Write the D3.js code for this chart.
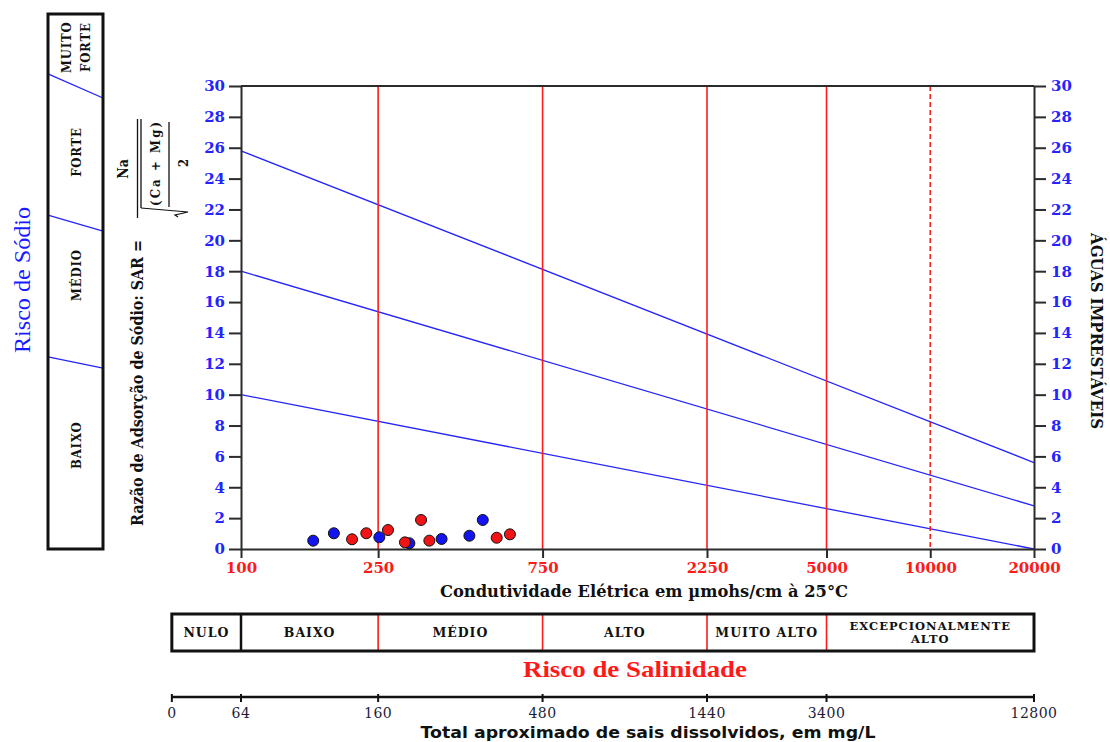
<!DOCTYPE html>
<html>
<head>
<meta charset="utf-8">
<script src="https://cdn.jsdelivr.net/npm/d3@7"></script>
<style>
  html, body { margin: 0; padding: 0; background: #fff; }
  svg { display: block; }
</style>
</head>
<body>
<svg id="chart" width="1110" height="742"></svg>
<script>
// ---- Data -------------------------------------------------------------
// Electrical conductivity ticks (µmhos/cm) and SAR ticks
const ecTicks = [100, 250, 750, 2250, 5000, 10000, 20000];
const sarTicks = [0, 2, 4, 6, 8, 10, 12, 14, 16, 18, 20, 22, 24, 26, 28, 30];

// Salinity class limits drawn as vertical lines
const salinityLimits = [250, 750, 2250, 5000];
const dashedLimits = [10000];

// Sodium hazard boundaries: SAR at EC = 100 and at EC = 20000
const sodiumLineStart = [10, 18, 25.8];
const sodiumLineEnd = [0, 2.8, 5.6];

// Samples (two groups)
const blueEC  = [162, 186, 252, 308, 382, 460, 503];
const blueSAR = [0.54, 1.02, 0.76, 0.37, 0.65, 0.86, 1.88];
const redEC   = [210, 231, 267, 299, 333, 352, 552, 603];
const redSAR  = [0.63, 1.02, 1.23, 0.43, 1.88, 0.54, 0.73, 0.95];

// Salinity hazard classes (EC limits of each box)
const salinityClasses = ["NULO", "BAIXO", "MÉDIO", "ALTO", "MUITO ALTO", "EXCEPCIONALMENTE ALTO"];
const salinityEdges = [63, 100, 250, 750, 2250, 5000, 20000];

// Total dissolved solids scale (mg/L) and matching EC
const tdsLabels = ["0", "64", "160", "480", "1440", "3400", "12800"];
const tdsAtEC = [63, 100, 250, 750, 2250, 5000, 20000];

// Sodium hazard side panel: classes and boundary heights (0 = bottom, 1 = top)
const sodiumClasses = ["BAIXO", "MÉDIO", "FORTE", "MUITO FORTE"];
const sodiumClassPos = [0.194, 0.512, 0.742, 0.938];
const sodiumBoundLeft = [0.359, 0.624, 0.888];
const sodiumBoundRight = [0.338, 0.594, 0.843];

// ---- Layout -----------------------------------------------------------
const svg = d3.select("#chart");
const plot = { left: 241, right: 1034, top: 86, bottom: 549 };

const x = d3.scaleLog().domain([100, 20000]).range([plot.left, plot.right]);
const y = d3.scaleLinear().domain([0, 30]).range([plot.bottom, plot.top]);

const SERIF_B = "'DejaVu Serif', serif";
const CONDENSED = "'DejaVu Serif Condensed', 'DejaVu Serif', serif";
const BLUE = "#2424ff";
const RED = "#ff1a1a";
const AXIS = "#2b2b2b";

// ---- Sodium hazard lines ---------------------------------------------
svg.append("g").selectAll("line")
  .data(sodiumLineStart.map((s, i) => ({ s, e: sodiumLineEnd[i] })))
  .join("line")
  .attr("x1", x(100)).attr("y1", d => y(d.s))
  .attr("x2", x(20000)).attr("y2", d => y(d.e))
  .attr("stroke", BLUE).attr("stroke-width", 1.3);

// ---- Salinity limit lines --------------------------------------------
svg.append("g").selectAll("line")
  .data(salinityLimits)
  .join("line")
  .attr("x1", d => x(d)).attr("x2", d => x(d))
  .attr("y1", y(30)).attr("y2", y(0))
  .attr("stroke", RED).attr("stroke-width", 1.6);

svg.append("g").selectAll("line")
  .data(dashedLimits)
  .join("line")
  .attr("x1", d => x(d)).attr("x2", d => x(d))
  .attr("y1", y(30)).attr("y2", y(0))
  .attr("stroke", RED).attr("stroke-width", 1.6)
  .attr("stroke-dasharray", "5,3");

// ---- Axes -------------------------------------------------------------
function styleAxis(g, color, size) {
  g.selectAll(".domain").attr("stroke", AXIS).attr("stroke-width", 2);
  g.selectAll(".tick line").attr("stroke", AXIS).attr("stroke-width", 2);
  g.selectAll(".tick text")
    .attr("fill", color)
    .style("font-family", SERIF_B)
    .style("font-weight", "bold")
    .style("font-size", size + "px");
}

const yLeft = svg.append("g")
  .attr("transform", `translate(${plot.left},0)`)
  .call(d3.axisLeft(y).tickValues(sarTicks).tickSize(12).tickSizeOuter(0).tickPadding(4));
styleAxis(yLeft, BLUE, 15);

const yRight = svg.append("g")
  .attr("transform", `translate(${plot.right},0)`)
  .call(d3.axisRight(y).tickValues(sarTicks).tickSize(12).tickSizeOuter(0).tickPadding(5));
styleAxis(yRight, BLUE, 15);
yRight.selectAll(".tick text").attr("text-anchor", "start");

const xAxis = svg.append("g")
  .attr("transform", `translate(0,${plot.bottom})`)
  .call(d3.axisBottom(x).tickValues(ecTicks).tickFormat(d3.format("d")).tickSize(9).tickSizeOuter(0).tickPadding(4));
styleAxis(xAxis, RED, 15);

// top frame
svg.append("line")
  .attr("x1", plot.left).attr("x2", plot.right)
  .attr("y1", plot.top).attr("y2", plot.top)
  .attr("stroke", AXIS).attr("stroke-width", 2);

// ---- Samples ------------------------------------------------------------
svg.append("g").selectAll("circle")
  .data(blueEC.map((e, i) => [e, blueSAR[i]]))
  .join("circle")
  .attr("cx", d => x(d[0])).attr("cy", d => y(d[1])).attr("r", 5.5)
  .attr("fill", "#1414f0").attr("stroke", "#111").attr("stroke-width", 1);

svg.append("g").selectAll("circle")
  .data(redEC.map((e, i) => [e, redSAR[i]]))
  .join("circle")
  .attr("cx", d => x(d[0])).attr("cy", d => y(d[1])).attr("r", 5.5)
  .attr("fill", "#f01414").attr("stroke", "#111").attr("stroke-width", 1);

// ---- Axis titles -------------------------------------------------------
svg.append("text")
  .attr("x", 644).attr("y", 597)
  .attr("text-anchor", "middle")
  .style("font-family", SERIF_B).style("font-weight", "bold").style("font-size", "16px")
  .attr("fill", "#111")
  .attr("textLength", 408).attr("lengthAdjust", "spacingAndGlyphs")
  .text("Condutividade Elétrica em µmohs/cm à 25°C");

svg.append("text")
  .attr("transform", "translate(1097,331) rotate(90)")
  .attr("text-anchor", "middle").attr("dy", "0.36em")
  .style("font-family", CONDENSED)
  .style("font-stretch", "condensed")
  .style("font-weight", "bold").style("font-size", "17px")
  .attr("fill", "#111")
  .attr("textLength", 196).attr("lengthAdjust", "spacingAndGlyphs")
  .text("ÁGUAS IMPRESTÁVEIS");

// Left title with the SAR formula, drawn in a rotated frame
// (local x = -screen y, local y = screen x)
const f = svg.append("g").attr("transform", "rotate(-90)");
f.append("text")
  .attr("x", -526).attr("y", 143)
  .style("font-family", CONDENSED).style("font-stretch", "condensed")
  .style("font-weight", "bold").style("font-size", "17px")
  .attr("fill", "#111")
  .attr("textLength", 286).attr("lengthAdjust", "spacingAndGlyphs")
  .text("Razão de Adsorção de Sódio: SAR =");
f.append("text")
  .attr("x", -169).attr("y", 128).attr("text-anchor", "middle")
  .style("font-family", CONDENSED).style("font-weight", "bold").style("font-size", "14px")
  .attr("fill", "#111").text("Na");
f.append("text")
  .attr("x", -164).attr("y", 160).attr("text-anchor", "middle")
  .style("font-family", CONDENSED).style("font-weight", "bold").style("font-size", "13px")
  .attr("fill", "#111")
  .attr("textLength", 84).attr("lengthAdjust", "spacing")
  .text("(Ca + Mg)");
f.append("text")
  .attr("x", -163).attr("y", 188).attr("text-anchor", "middle")
  .style("font-family", CONDENSED).style("font-weight", "bold").style("font-size", "13px")
  .attr("fill", "#111").text("2");
const fracLines = [
  [-218, 137.5, -119, 137.5],
  [-208, 141, -119, 141],
  [-207, 169, -122, 169]
];
f.selectAll("line.frac").data(fracLines).join("line")
  .attr("class", "frac")
  .attr("x1", d => d[0]).attr("y1", d => d[1])
  .attr("x2", d => d[2]).attr("y2", d => d[3])
  .attr("stroke", "#111").attr("stroke-width", 1.3);
f.append("path")
  .attr("d", "M-208,141 L-212,188 L-215,175 L-217,178")
  .attr("fill", "none").attr("stroke", "#111").attr("stroke-width", 1.2);

// ---- Sodium hazard panel ----------------------------------------------
const panel = { left: 48, right: 103, top: 14, bottom: 549 };
const py = d3.scaleLinear().domain([0, 1]).range([panel.bottom, panel.top]);

svg.append("g").selectAll("line")
  .data(sodiumBoundLeft.map((l, i) => [l, sodiumBoundRight[i]]))
  .join("line")
  .attr("x1", panel.left).attr("y1", d => py(d[0]))
  .attr("x2", panel.right).attr("y2", d => py(d[1]))
  .attr("stroke", BLUE).attr("stroke-width", 1.3);

svg.append("rect")
  .attr("x", panel.left).attr("y", panel.top)
  .attr("width", panel.right - panel.left).attr("height", panel.bottom - panel.top)
  .attr("fill", "none").attr("stroke", "#111").attr("stroke-width", 3);

sodiumClasses.forEach((name, i) => {
  const words = name.split(" ");
  const cy = py(sodiumClassPos[i]);
  const t = svg.append("text")
    .attr("transform", `translate(76,${cy}) rotate(-90)`)
    .attr("text-anchor", "middle")
    .style("font-family", CONDENSED).style("font-stretch", "condensed")
    .style("font-weight", "bold").style("font-size", "13px")
    .style("letter-spacing", "0.8px")
    .attr("fill", "#111");
  words.forEach((w, k) => {
    t.append("tspan")
      .attr("x", 0)
      .attr("y", (k - (words.length - 1) / 2) * 19)
      .attr("dy", "0.35em")
      .text(w);
  });
});

svg.append("text")
  .attr("transform", "translate(30,280) rotate(-90)")
  .attr("text-anchor", "middle")
  .style("font-family", "'Liberation Serif', serif").style("font-size", "24px")
  .attr("fill", "#1a1aff")
  .attr("textLength", 146).attr("lengthAdjust", "spacingAndGlyphs")
  .text("Risco de Sódio");

// ---- Salinity hazard box ---------------------------------------------
const box = { top: 614, bottom: 651 };
const boxG = svg.append("g");
salinityClasses.forEach((name, i) => {
  const x0 = x(salinityEdges[i]), x1 = x(salinityEdges[i + 1]);
  const cx = (x0 + x1) / 2;
  const words = name === "EXCEPCIONALMENTE ALTO" ? ["EXCEPCIONALMENTE", "ALTO"] : [name];
  const t = boxG.append("text")
    .attr("text-anchor", "middle")
    .style("font-family", SERIF_B).style("font-weight", "bold")
    .style("font-size", words.length > 1 ? "11.5px" : "12.5px")
    .style("letter-spacing", "1px")
    .attr("fill", "#111");
  words.forEach((w, k) => {
    t.append("tspan")
      .attr("x", cx)
      .attr("y", (box.top + box.bottom) / 2 + (k - (words.length - 1) / 2) * 13)
      .attr("dy", "0.35em")
      .text(w);
  });
});
// inner dividers: first one black, remaining ones red
boxG.selectAll("line.div")
  .data(salinityEdges.slice(1, -1))
  .join("line")
  .attr("class", "div")
  .attr("x1", d => x(d)).attr("x2", d => x(d))
  .attr("y1", box.top).attr("y2", box.bottom)
  .attr("stroke", (d, i) => i === 0 ? "#111" : RED)
  .attr("stroke-width", (d, i) => i === 0 ? 2.5 : 1.6);
boxG.append("rect")
  .attr("x", x(salinityEdges[0])).attr("y", box.top)
  .attr("width", x(salinityEdges[salinityEdges.length - 1]) - x(salinityEdges[0]))
  .attr("height", box.bottom - box.top)
  .attr("fill", "none").attr("stroke", "#111").attr("stroke-width", 3);

svg.append("text")
  .attr("x", 635).attr("y", 677)
  .attr("text-anchor", "middle")
  .style("font-family", "'Liberation Serif', serif").style("font-size", "24px")
  .style("font-weight", "bold")
  .attr("fill", "#ff1a1a")
  .attr("textLength", 224).attr("lengthAdjust", "spacingAndGlyphs")
  .text("Risco de Salinidade");

// ---- Total dissolved solids axis -------------------------------------
const tdsG = svg.append("g").attr("transform", "translate(0,697)");
tdsG.append("line")
  .attr("x1", x(tdsAtEC[0])).attr("x2", x(tdsAtEC[tdsAtEC.length - 1]))
  .attr("stroke", "#111").attr("stroke-width", 2.5);
const tdsTick = tdsG.selectAll("g.t")
  .data(tdsLabels.map((l, i) => ({ l, ec: tdsAtEC[i] })))
  .join("g").attr("class", "t")
  .attr("transform", d => `translate(${x(d.ec)},0)`);
tdsTick.append("line")
  .attr("y1", -3).attr("y2", 5)
  .attr("stroke", "#111").attr("stroke-width", 2);
tdsTick.append("text")
  .attr("y", 16).attr("dy", "0.35em")
  .attr("text-anchor", "middle")
  .style("font-family", "'DejaVu Serif', serif").style("font-size", "14px")
  .style("letter-spacing", "0.5px")
  .attr("fill", "#1c1c38")
  .text(d => d.l);

svg.append("text")
  .attr("x", 648).attr("y", 738)
  .attr("text-anchor", "middle")
  .style("font-family", "'DejaVu Sans', sans-serif").style("font-weight", "bold").style("font-size", "15px")
  .attr("fill", "#111")
  .attr("textLength", 455).attr("lengthAdjust", "spacingAndGlyphs")
  .text("Total aproximado de sais dissolvidos, em mg/L");
</script>
</body>
</html>
